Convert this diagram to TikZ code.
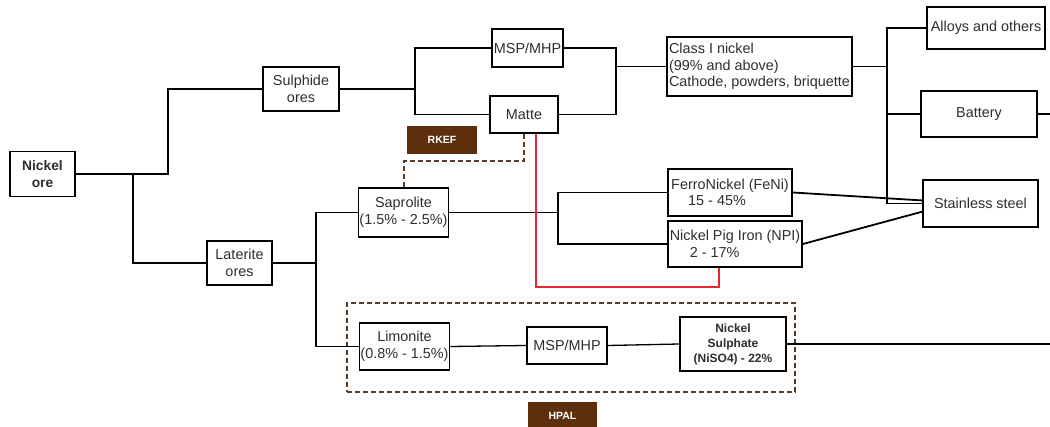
\documentclass[tikz,border=0pt]{standalone}
\usepackage{fontspec}
\setmainfont{Liberation Sans}
\usepackage{xcolor}
\usepackage{tikz}
\definecolor{ink}{HTML}{2E2E2E}
\definecolor{rkbrown}{HTML}{5E2F0D}
\definecolor{dashbrown}{HTML}{5A3A22}
\definecolor{redpath}{HTML}{E8262B}
\newcommand{\bodyfont}{\fontsize{14.4}{16.5}\selectfont}

\begin{document}
\begin{tikzpicture}[
  x=1pt,y=-1pt,
  box/.style={draw=black,line width=1.8pt,fill=white,text=ink,align=center,
              inner sep=1pt,font=\bodyfont},
  sz/.style 2 args={minimum width=#1pt,minimum height=#2pt},
  lnk/.style={line width=1.8pt,color=black},
  thin lnk/.style={line width=1.3pt,color=black},
  redln/.style={line width=1.8pt,color=redpath},
  dashln/.style={line width=1.6pt,color=dashbrown,dash pattern=on 5pt off 3pt},
  zone/.style={draw=dashbrown,line width=1.6pt,dash pattern=on 5pt off 3pt},
  tag/.style={fill=rkbrown,text=white,inner sep=0pt,
              font=\fontsize{10.5}{12}\selectfont\bfseries}
]
\useasboundingbox (0,0) rectangle (1050,427);
\node[zone,sz={448}{89}] (hpalzone) at (571,347.5) {};

\node[box,sz={65}{45},font=\fontsize{13.8}{16.5}\selectfont\bfseries] (ore) at (42.5,174) {Nickel\\ore};
\node[box,sz={76}{44}] (sulph) at (301,89) {Sulphide\\ores};
\node[box,sz={65}{44}] (lat) at (239.5,263) {Laterite\\ores};
\node[box,sz={71}{38}] (msp1) at (527.5,48) {MSP/MHP};
\node[box,sz={68}{37}] (matte) at (524,114.5) {Matte};
\node[box,sz={185}{59},align=left] (class1) at (759.5,66.5)
  {Class I nickel\\(99\% and above)\\Cathode, powders, briquette};
\node[box,sz={118}{42}] (alloys) at (986,28) {Alloys and others};
\node[box,sz={116}{46}] (battery) at (979,114) {Battery};
\node[box,sz={115}{47}] (stain) at (980.5,203.5) {Stainless steel};
\node[box,sz={124}{47},align=left] (feni) at (730,192.5)
  {FerroNickel (FeNi)\\\hspace*{17pt}15 - 45\%};
\node[box,sz={134}{46},align=left] (npi) at (735,244)
  {Nickel Pig Iron (NPI)\\\hspace*{20pt}2 - 17\%};
\node[box,sz={87}{49}] (sapro) at (403.5,212.5) {Saprolite\\(1.5\% - 2.5\%)};
\node[box,sz={89}{47}] (limo) at (404.5,346.5) {Limonite\\(0.8\% - 1.5\%)};
\node[box,sz={80}{37}] (msp2) at (567,345.5) {MSP/MHP};
\node[box,sz={106}{54},font=\fontsize{12}{15}\selectfont\bfseries] (niso) at (733,344)
  {Nickel\\Sulphate\\(NiSO4) - 22\%};
\node[tag,sz={70}{28}] (rkef) at (442,140) {RKEF};
\node[tag,sz={69}{28}] (hpal) at (562.5,416) {HPAL};

% junctions
\coordinate (jl) at (133,174);
\coordinate (jo) at (168,174);
\coordinate (js) at (415,89);
\coordinate (jc) at (616,66.5);
\coordinate (jd) at (887,66.5);
\coordinate (jt) at (316,263);
\coordinate (jf) at (558,212.5);
\coordinate (rc) at (719,287);
\coordinate (rk) at (404,161);
\coordinate (bout) at (1050,114);
\coordinate (nout) at (1050,344);

\draw[lnk] (ore.east) -- (jo) |- (sulph.west);
\draw[lnk] (jl) |- (lat.west);
\draw[lnk] (sulph.east) -- (js);
\draw[lnk] (msp1.west) -| (js) |- (matte.west);
\draw[lnk] (msp1.east) -| (jc) |- (matte.east);
\draw[lnk] (jc) -- (class1.west);
\draw[lnk] (class1.east) -- (jd) |- (alloys.west);
\draw[lnk] (jd) |- (stain.west);
\draw[lnk] (jd |- battery.west) -- (battery.west);
\draw[lnk] (battery.east) -- (bout);
\draw[lnk] (lat.east) -- (jt);
\draw[lnk] (sapro.west) -| (jt) |- (limo.west);
\draw[lnk] (sapro.east) -- (jf);
\draw[lnk] (feni.west) -| (jf) |- (npi.west);
\draw[lnk] (feni.east) -- (stain.177);
\draw[lnk] (npi.east) -- (stain.188);
\draw[thin lnk] (limo.east) -- (msp2.west);
\draw[thin lnk] (msp2.east) -- (niso.west);
\draw[thin lnk] (niso.east) -- (nout);
\draw[redln] ([xshift=12pt]matte.south) |- (rc) -- (rc |- npi.south);
\draw[dashln] (matte.south) |- (rk) -- (rk |- sapro.north);
\end{tikzpicture}
\end{document}
